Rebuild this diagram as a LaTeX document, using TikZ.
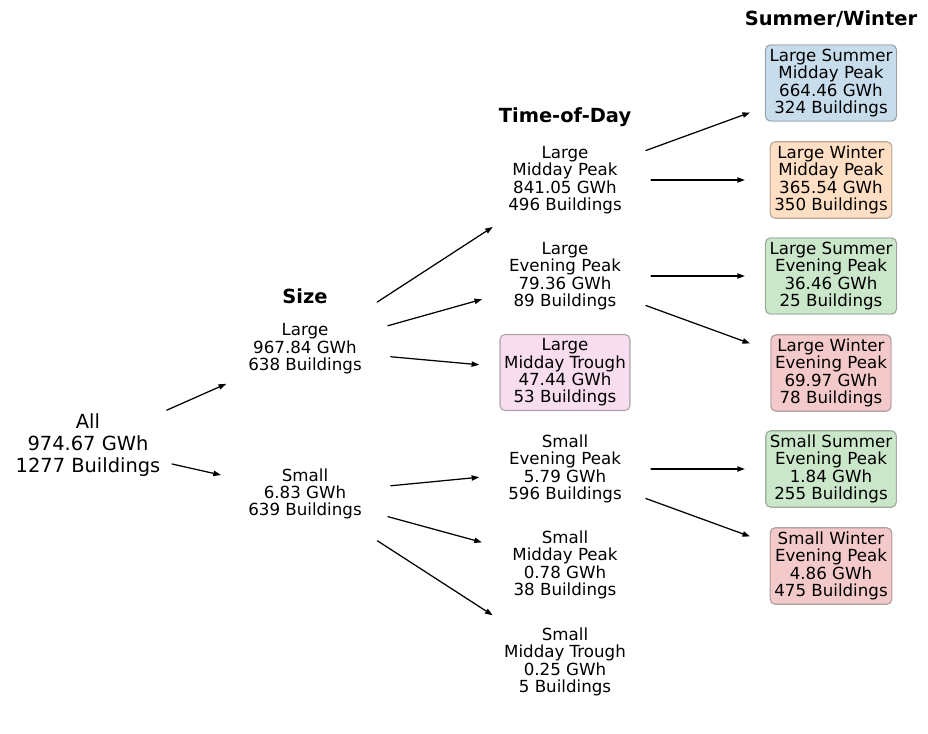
\documentclass[tikz,border=0pt]{standalone}
\usepackage{fontspec}
\setmainfont{DejaVu Sans}
\usetikzlibrary{arrows.meta}

\begin{document}
\begin{tikzpicture}[x=0.72pt, y=-0.72pt, line cap=round, line join=round]

% ---------------- colours ----------------
\definecolor{segBlue}{HTML}{C7DDEC}
\definecolor{segOrange}{HTML}{FFDFC3}
\definecolor{segGreen}{HTML}{CAE7CA}
\definecolor{segRed}{HTML}{F4C9CA}
\definecolor{segPink}{HTML}{F8DDEF}

% ---------------- parameters ----------------
\def\Gap{62pt}  % clear distance kept round each node centre
\def\xRoot{88}  % column of the whole set
\def\xSize{305} % size split
\def\xTod{565}  % time-of-day split
\def\xSeas{831} % summer/winter split

% ---------------- styles ----------------
\tikzset{
  segText/.style  ={align=center, inner sep=3pt, font=\fontsize{12}{12.5}\selectfont},
  segRoot/.style  ={align=center, inner sep=3pt, font=\fontsize{14}{15.9}\selectfont},
  segHead/.style  ={inner sep=0pt, font=\fontsize{14}{16}\selectfont\bfseries},
  segBox/.style   ={segText, draw=black, draw opacity=0.3, line width=0.8pt,
                    rounded corners=3.6pt, fill=#1},
  segArrow/.style ={-{Triangle[length=5.5pt, width=3.8pt]}, line width=0.9pt,
                    shorten <=\Gap, shorten >=\Gap}
}

\useasboundingbox (0,0) rectangle (928,733);

% ---------------- column headers ----------------
\node[segHead] (headSize) at (\xSize,296) {Size};
\node[segHead] (headTod)  at (\xTod,117)  {Time-of-Day};
\node[segHead] (headSeas) at (\xSeas,19)  {Summer/Winter};

% ---------------- root and size ----------------
\node[segRoot] (all)   at (\xRoot,445) {All\\974.67 GWh\\1277 Buildings};
\node[segText] (large) at (\xSize,349) {Large\\967.84 GWh\\638 Buildings};
\node[segText] (small) at (\xSize,494) {Small\\6.83 GWh\\639 Buildings};

% ---------------- time of day ----------------
\node[segText] (lMidPeak)   at (\xTod,180)   {Large\\Midday Peak\\841.05 GWh\\496 Buildings};
\node[segText] (lEvePeak)   at (\xTod,276)   {Large\\Evening Peak\\79.36 GWh\\89 Buildings};
\node[segBox=segPink] (lMidTrough) at (\xTod,372.5) {Large\\Midday Trough\\47.44 GWh\\53 Buildings};
\node[segText] (sEvePeak)   at (\xTod,469)   {Small\\Evening Peak\\5.79 GWh\\596 Buildings};
\node[segText] (sMidPeak)   at (\xTod,565)   {Small\\Midday Peak\\0.78 GWh\\38 Buildings};
\node[segText] (sMidTrough) at (\xTod,662)   {Small\\Midday Trough\\0.25 GWh\\5 Buildings};

% ---------------- summer / winter ----------------
\node[segBox=segBlue]   (lSumMid) at (\xSeas,83)  {Large Summer\\Midday Peak\\664.46 GWh\\324 Buildings};
\node[segBox=segOrange] (lWinMid) at (\xSeas,180) {Large Winter\\Midday Peak\\365.54 GWh\\350 Buildings};
\node[segBox=segGreen]  (lSumEve) at (\xSeas,276) {Large Summer\\Evening Peak\\36.46 GWh\\25 Buildings};
\node[segBox=segRed]    (lWinEve) at (\xSeas,373) {Large Winter\\Evening Peak\\69.97 GWh\\78 Buildings};
\node[segBox=segGreen]  (sSumEve) at (\xSeas,469) {Small Summer\\Evening Peak\\1.84 GWh\\255 Buildings};
\node[segBox=segRed]    (sWinEve) at (\xSeas,566) {Small Winter\\Evening Peak\\4.86 GWh\\475 Buildings};

% ---------------- arrows ----------------
\foreach \a/\b in {all/large, all/small,
                   large/lMidPeak, large/lEvePeak, large/lMidTrough,
                   small/sEvePeak, small/sMidPeak, small/sMidTrough,
                   lMidPeak/lSumMid, lMidPeak/lWinMid,
                   lEvePeak/lSumEve, lEvePeak/lWinEve,
                   sEvePeak/sSumEve, sEvePeak/sWinEve}
  \draw[segArrow] (\a.center) -- (\b.center);

\end{tikzpicture}
\end{document}
